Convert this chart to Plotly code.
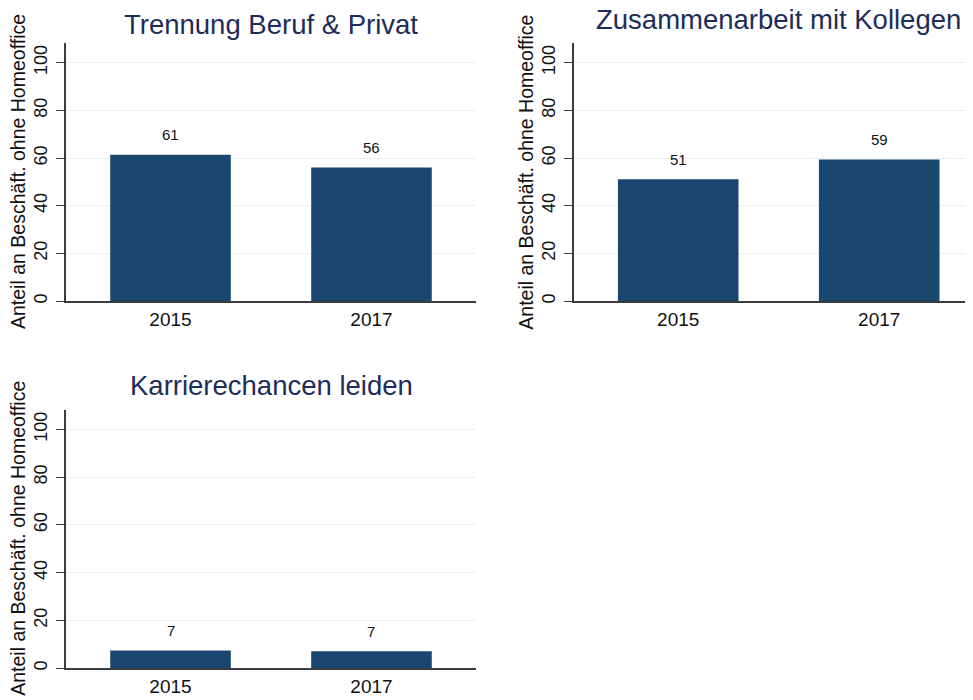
import plotly.graph_objects as go

# Data (share of employees without home office, %)
years = ["2015", "2017"]
titles = ["Trennung Beruf & Privat", "Zusammenarbeit mit Kollegen", "Karrierechancen leiden"]
trennung = [61.4, 56.1]
zusammenarbeit = [51.1, 59.4]
karriere = [7.4, 7.1]
y_ticks = [0, 20, 40, 60, 80, 100]
y_title = "Anteil an Beschäft. ohne Homeoffice"

# the page body has an 8px margin, so the figure is drawn 8px smaller
OFF = 8
W, H = 973 - OFF, 700 - OFF
FONT = "Liberation Sans, Arial, sans-serif"
BAR = "#1a476f"
TITLE_COL = "#1c2d5a"
GRID = "#e9f0f2"
AXIS = "#3c3c3c"

# panel layout in window pixels: (left, right, top, bottom, x-range right end)
panels = [
    (66, 476, 43, 302, 1.52),
    (573.7, 973, 43, 302, 1.4666),
    (66, 476, 410.7, 670, 1.52),
]
series = [trennung, zusammenarbeit, karriere]
title_y = [25, 20, 387]
title_cx = [271, 778.5, 271]


def px_x(v):
    return (v - OFF) / W


def px_y(v):
    return 1 - (v - OFF) / H


fig = go.Figure()
annotations = []

for i, (vals, (l, r, t, b, xr), name) in enumerate(zip(series, panels, titles)):
    n = i + 1
    xa = "x" if n == 1 else f"x{n}"
    ya = "y" if n == 1 else f"y{n}"
    fig.add_trace(go.Bar(
        x=years, y=vals, xaxis=xa, yaxis=ya,
        marker=dict(color=BAR, line=dict(width=0)),
        width=0.6, showlegend=False, hoverinfo="x+y",
    ))
    xkey = "xaxis" if n == 1 else f"xaxis{n}"
    ykey = "yaxis" if n == 1 else f"yaxis{n}"
    fig.update_layout(**{
        xkey: dict(
            type="category",
            domain=[px_x(l), min(px_x(r), 1)], anchor=ya, range=[-0.52, xr],
            showgrid=False, showline=True, linecolor=AXIS, linewidth=1.5,
            ticks="", tickfont=dict(size=19, color="#111111", family=FONT),
            fixedrange=True,
        ),
        ykey: dict(
            domain=[px_y(b), px_y(t)], anchor=xa, range=[0, 108.3],
            tickvals=y_ticks, tickangle=-90,
            showgrid=True, gridcolor=GRID, gridwidth=1, zeroline=False,
            showline=True, linecolor=AXIS, linewidth=1.5,
            ticks="outside", ticklen=8, tickcolor=AXIS, tickwidth=1.2,
            ticklabelstandoff=2,
            tickfont=dict(size=18, color="#111111", family=FONT),
            fixedrange=True,
        ),
    })
    # value labels above bars
    for j, v in enumerate(vals):
        annotations.append(dict(
            x=j, y=v, xref=xa, yref=ya, text=f"{v:.0f}", showarrow=False,
            yshift=20, yanchor="middle", font=dict(size=15, color="#111111", family=FONT),
        ))
    # panel title
    annotations.append(dict(
        x=px_x(title_cx[i]), y=px_y(title_y[i]), xref="paper", yref="paper",
        text=name, showarrow=False, xanchor="center", yanchor="middle",
        borderpad=0, font=dict(size=27.5, color=TITLE_COL, family=FONT),
    ))
    # y axis title
    annotations.append(dict(
        x=px_x(l - 48), y=px_y((t + b) / 2), xref="paper", yref="paper",
        text=y_title, showarrow=False, textangle=-90,
        xanchor="center", yanchor="middle", borderpad=0,
        font=dict(size=19.5, color="#111111", family=FONT),
    ))

fig.update_layout(
    width=W, height=H,
    margin=dict(l=0, r=0, t=0, b=0),
    paper_bgcolor="white", plot_bgcolor="white",
    annotations=annotations,
)

fig.write_html("out.html")
